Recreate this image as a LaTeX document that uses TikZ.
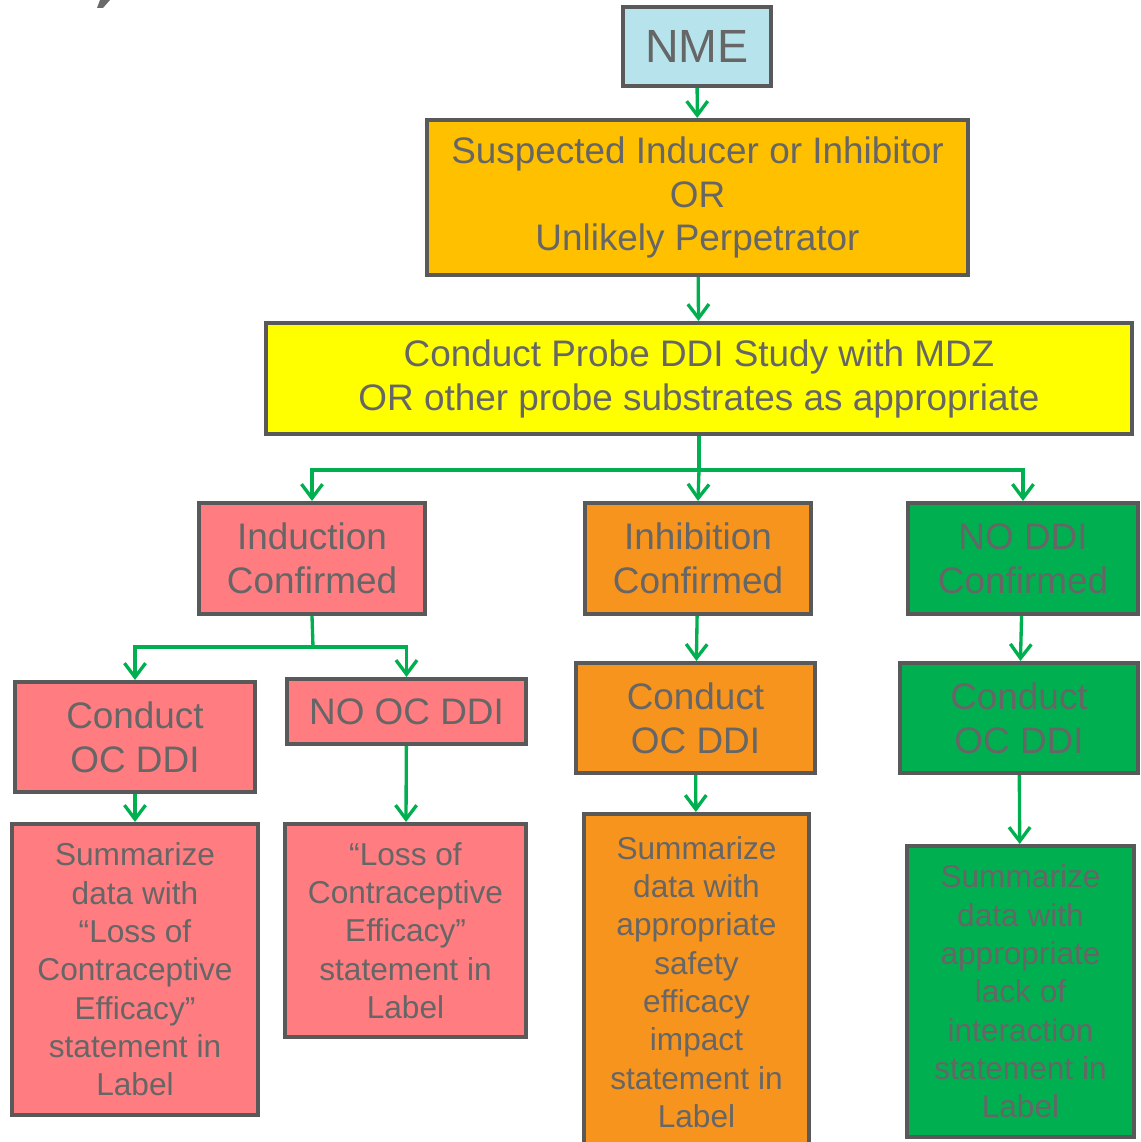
\documentclass[tikz,border=0pt]{standalone}
\usepackage{fontspec}
\setmainfont{Liberation Sans}
\usepackage{tikz}
\usetikzlibrary{arrows.meta,positioning,calc}

\definecolor{nmeblue}{HTML}{B7E4EC}
\definecolor{suspectorange}{HTML}{FFC000}
\definecolor{probeyellow}{HTML}{FFFF00}
\definecolor{inductpink}{HTML}{FF7C80}
\definecolor{inhiborange}{HTML}{F7941E}
\definecolor{noddigreen}{HTML}{00B050}
\definecolor{textgray}{HTML}{666666}
\definecolor{edgegray}{HTML}{595959}

\begin{document}
\begin{tikzpicture}[
  box/.style={rectangle, draw=edgegray, line width=2.3pt, text=textgray, align=center, inner sep=2pt},
  bigtext/.style={font=\fontsize{21}{25}\selectfont},
  smalltext/.style={font=\fontsize{18}{21.8}\selectfont},
  flow/.style={draw=noddigreen, line width=1.9pt, -{Straight Barb[length=8pt,width=12pt]}},
  link/.style={draw=noddigreen, line width=1.9pt}
]
\useasboundingbox (0,0) rectangle (22.8,-22.84);

% Cut-off glyph of the slide title
\fill[edgegray!90] (2.0,0) -- (2.2,0) -- (2.06,-0.16) -- (1.94,-0.16) -- cycle;

% Top of the tree
\node[box, fill=nmeblue, minimum width=2.96cm, minimum height=1.58cm, font=\fontsize{26.5}{30}\selectfont] (nme) at (13.94,-0.93) {NME};
\node[box, bigtext, fill=suspectorange, minimum width=10.82cm, minimum height=3.10cm] (suspect) at (13.95,-3.95) {Suspected Inducer or Inhibitor\\OR\\Unlikely Perpetrator};
\node[box, bigtext, fill=probeyellow, minimum width=17.32cm, minimum height=2.22cm] (probe) at (13.98,-7.57) {Conduct Probe DDI Study with MDZ\\OR other probe substrates as appropriate};

% Outcomes
\node[box, bigtext, fill=inductpink, minimum width=4.52cm, minimum height=2.22cm] (induct) at (6.24,-11.17) {Induction\\Confirmed};
\node[box, bigtext, fill=inhiborange, minimum width=4.52cm, minimum height=2.22cm] (inhib) at (13.96,-11.17) {Inhibition\\Confirmed};
\node[box, bigtext, fill=noddigreen, minimum width=4.60cm, minimum height=2.22cm] (noddi) at (20.46,-11.17) {NO DDI\\Confirmed};

% OC DDI step
\node[box, bigtext, fill=inductpink, minimum width=4.80cm, minimum height=2.20cm] (condl) at (2.70,-14.74) {Conduct\\OC DDI};
\node[box, bigtext, fill=inductpink, minimum width=4.78cm, minimum height=1.30cm] (nooc) at (8.13,-14.23) {NO OC DDI};
\node[box, bigtext, fill=inhiborange, minimum width=4.78cm, minimum height=2.20cm] (condo) at (13.91,-14.36) {Conduct\\OC DDI};
\node[box, bigtext, fill=noddigreen, minimum width=4.76cm, minimum height=2.20cm] (condg) at (20.38,-14.36) {Conduct\\OC DDI};

% Label statements
\node[box, smalltext, fill=inductpink, minimum width=4.92cm, minimum height=5.82cm] (suml) at (2.70,-19.39) {Summarize\\data with\\“Loss of\\Contraceptive\\Efficacy”\\statement in\\Label};
\node[box, smalltext, fill=inductpink, minimum width=4.82cm, minimum height=4.26cm] (loss) at (8.11,-18.61) {“Loss of\\Contraceptive\\Efficacy”\\statement in\\Label};
\node[box, smalltext, fill=inhiborange, minimum width=4.50cm, minimum height=6.72cm] (sumo) at (13.93,-19.64) {Summarize\\data with\\appropriate\\safety\\efficacy\\impact\\statement in\\Label};
\node[box, smalltext, fill=noddigreen, minimum width=4.54cm, minimum height=5.82cm] (sumg) at (20.41,-19.83) {Summarize\\data with\\appropriate\\lack of\\interaction\\statement in\\Label};

% Branch points
\coordinate (split1) at (13.98,-9.40);
\coordinate (split2) at (6.26,-12.94);

% Arrows
\draw[flow] (nme) -- (suspect);
\draw[flow] (suspect) -- (probe);
\draw[link] (probe.south) -- (split1);
\draw[flow] (split1) -| (induct.north);
\draw[flow] (split1) -- (inhib.north);
\draw[flow] (split1) -| (noddi.north);
\draw[link] (induct.south) -- (split2);
\draw[flow] (split2) -| (condl.north);
\draw[flow] (split2) -| (nooc.north);
\draw[flow] (condl) -- (suml);
\draw[flow] (nooc) -- (loss);
\draw[flow] (inhib) -- (condo);
\draw[flow] (condo) -- (sumo);
\draw[flow] (noddi) -- (condg);
\draw[flow] (condg) -- (sumg);
\end{tikzpicture}
\end{document}
